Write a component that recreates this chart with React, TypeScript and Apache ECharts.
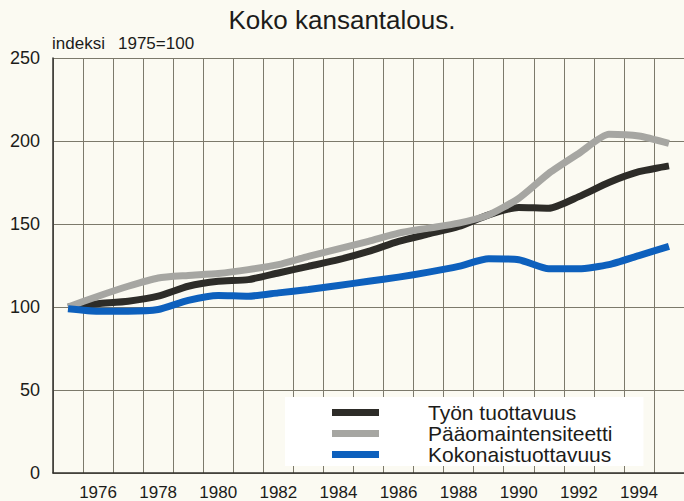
import React, { useEffect, useRef } from 'react';
import * as echarts from 'echarts';

const years = ['1975', '1976', '1977', '1978', '1979', '1980', '1981', '1982', '1983', '1984', '1985', '1986', '1987', '1988', '1989', '1990', '1991', '1992', '1993', '1994', '1995'];
const tyonTuottavuus = [100, 102, 103.5, 106.5, 112.5, 115.5, 116.5, 120.5, 124.5, 128.5, 133.5, 139.5, 144, 148.5, 155.5, 160, 159.5, 166.5, 175, 181.5, 185];
const paaomaintensiteetti = [100, 106.5, 112.5, 117.5, 119, 120.2, 122.5, 125.5, 130.5, 135, 139.5, 144.5, 147.5, 150.5, 155.5, 165.5, 180.5, 192.5, 204, 203, 198.5];
const kokonaistuottavuus = [99, 97.5, 97.5, 98.5, 104, 107, 106.5, 108.5, 110.5, 113, 115.5, 118, 121, 124.5, 129, 128.5, 123, 123, 125.5, 131, 136.5];
const seriesNames = ['Työn tuottavuus', 'Pääomaintensiteetti', 'Kokonaistuottavuus'];

const FONT = '"Liberation Sans", Arial, Helvetica, sans-serif';
const BG = '#fbfaf2';
const GRIDC = '#7c796b';
const TXT = '#1c1c1a';

export default function App() {
  const ref = useRef<HTMLDivElement>(null);
  useEffect(() => {
    const chart = echarts.init(ref.current as HTMLDivElement, null, { renderer: 'svg' });
    const colors = ['#2d2c28', '#a6a6a2', '#0d60bd'];
    const data = [tyonTuottavuus, paaomaintensiteetti, kokonaistuottavuus];
    chart.setOption({
      animation: false,
      backgroundColor: BG,
      textStyle: { fontFamily: FONT },
      title: {
        text: 'Koko kansantalous.',
        left: 'center',
        top: 7,
        padding: 0,
        textStyle: { fontFamily: FONT, fontSize: 26, fontWeight: 'normal', color: TXT },
      },
      graphic: [
        { type: 'text', left: 52, top: 35, style: { text: 'indeksi', font: `17px ${FONT}`, fill: TXT } },
        { type: 'text', left: 118, top: 35, style: { text: '1975=100', font: `17px ${FONT}`, fill: TXT } },
      ],
      legend: {
        orient: 'vertical',
        left: 285,
        top: 397,
        backgroundColor: '#ffffff',
        padding: [5, 31, 1, 47],
        itemWidth: 47,
        itemHeight: 7,
        itemGap: 0,
        icon: 'rect',
        data: seriesNames,
        textStyle: { fontFamily: FONT, fontSize: 21, color: TXT, lineHeight: 20, padding: [0, 0, 0, 44] },
      },
      grid: { left: 53, top: 58, right: -3, bottom: 27 },
      xAxis: {
        type: 'category',
        data: years,
        boundaryGap: true,
        axisLine: { show: true, lineStyle: { color: '#33322e', width: 1.5 } },
        axisTick: { show: false },
        axisLabel: {
          interval: (i: number) => i % 2 === 1,
          fontSize: 17,
          color: TXT,
          margin: 11,
          fontFamily: FONT,
        },
        splitLine: { show: true, interval: 0, lineStyle: { color: GRIDC, width: 1 } },
      },
      yAxis: {
        type: 'value',
        min: 0,
        max: 250,
        interval: 50,
        axisLine: { show: true, lineStyle: { color: '#33322e', width: 1.5 } },
        axisTick: { show: false },
        axisLabel: { fontSize: 18, color: TXT, margin: 13, fontFamily: FONT },
        splitLine: { show: true, lineStyle: { color: GRIDC, width: 1 } },
      },
      series: seriesNames.map((name, i) => ({
        name,
        type: 'line',
        data: data[i],
        color: colors[i],
        showSymbol: false,
        smooth: 0.2,
        itemStyle: { color: colors[i] },
        lineStyle: { color: colors[i], width: 7, cap: 'butt', join: 'round' },
        z: 2 + i,
      })),
    });
    return () => chart.dispose();
  }, []);
  return <div ref={ref} style={{ position: 'fixed', left: 0, top: 0, width: 684, height: 501 }} />;
}
